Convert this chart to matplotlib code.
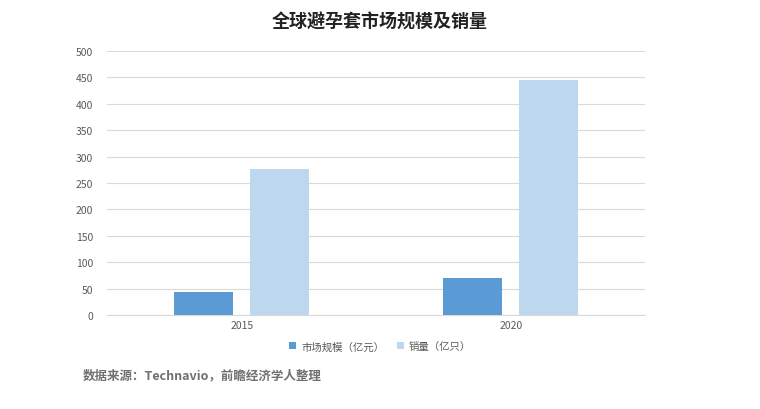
import matplotlib
matplotlib.use("Agg")
import matplotlib.pyplot as plt
import numpy as np

plt.rcParams['font.family'] = ['Noto Sans CJK SC', 'DejaVu Sans']

years = ["2015", "2020"]
market = [44, 70]
sales = [277, 446]
series_names = ["市场规模（亿元）", "销量（亿只）"]

fig = plt.figure(figsize=(7.6, 4.1), dpi=100)
ax = fig.add_axes([0.141, 0.229, 0.708, 0.644])
x = np.arange(len(years))
w = 0.22
gap = 0.063
ax.bar(x - w/2 - gap/2, market, w, color="#5B9BD5", label=series_names[0], zorder=3)
ax.bar(x + w/2 + gap/2, sales, w, color="#BDD7EE", label=series_names[1], zorder=3)
ax.set_xlim(-0.5, 1.5)
ax.set_ylim(0, 500)
ax.set_yticks(range(0, 501, 50))
ax.set_xticks(x)
ax.set_xticklabels(years)
ax.grid(axis='y', color="#D9D9D9", linewidth=0.8, zorder=0)
for s in ["top", "right", "left"]:
    ax.spines[s].set_visible(False)
ax.spines["bottom"].set_color("#D9D9D9")
ax.tick_params(axis='both', length=0, labelsize=7.5, colors="#595959")
ax.tick_params(axis='y', pad=10)
fig.text(0.5, 0.945, "全球避孕套市场规模及销量", ha='center', va='center', fontsize=13, fontweight='bold', color="#222222")
fig.legend(loc='center', bbox_to_anchor=(0.5, 0.153), ncol=2, frameon=False, fontsize=7.5,
           handlelength=0.7, handleheight=0.7, handletextpad=0.5, columnspacing=1.2, labelcolor="#595959")
fig.text(0.109, 0.083, "数据来源：Technavio，前瞻经济学人整理", ha='left', va='center', fontsize=9, fontweight='bold', color="#707070")
fig.savefig("out.png", dpi=100)
